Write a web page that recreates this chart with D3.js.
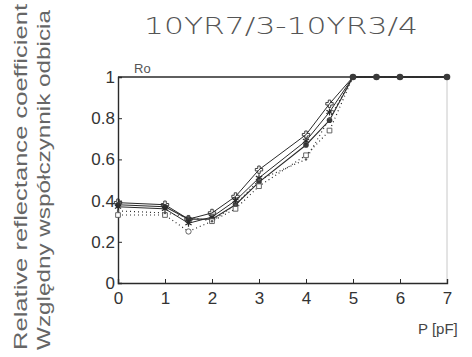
<!DOCTYPE html>
<html><head><meta charset="utf-8">
<script src="https://cdn.jsdelivr.net/npm/d3@7"></script>
<style>body{margin:0;background:#fff}svg{display:block}</style>
</head><body><svg id="c" width="472" height="357"></svg>
<script>
const xVals = [0, 1, 1.5, 2, 2.5, 3, 4, 4.5, 5, 5.5, 6, 7];
const seriesCircle = [0.38, 0.37, 0.31, 0.31, 0.38, 0.49, 0.67, 0.79, 1, 1, 1, 1];
const seriesPlus = [0.39, 0.38, 0.31, 0.34, 0.42, 0.55, 0.72, 0.87, 1, 1, 1, 1];
const seriesStar = [0.37, 0.36, 0.29, 0.32, 0.40, 0.51, 0.69, 0.83, 1, 1, 1, 1];
const seriesSquare = [0.33, 0.33, 0.25, 0.30, 0.36, 0.47, 0.62, 0.74, 1, 1, 1, 1];
const seriesDot = [0.35, 0.34, 0.32, 0.30, 0.38, 0.50, 0.60, 0.80, 1, 1, 1, 1];
const xTicks = [0, 1, 2, 3, 4, 5, 6, 7];
const yTicks = [0, 0.2, 0.4, 0.6, 0.8, 1];
const yTickLabels = ["0", "0.2", "0.4", "0.6", "0.8", "1"];
const title = "10YR7/3-10YR3/4";
const yLabel1 = "Relative reflectance coefficient";
const yLabel2 = "Względny współczynnik odbicia";

const svg = d3.select("#c");
const x = d3.scaleLinear().domain([0, 7]).range([118, 447]);
const y = d3.scaleLinear().domain([0, 1]).range([283, 77]);
const ink = "#2a2a2a";
const font = "Liberation Sans, Arial, sans-serif";

// frame
svg.append("line").attr("x1", x(7)).attr("x2", x(7)).attr("y1", y(1)).attr("y2", y(0))
  .attr("stroke", "#c8c8c8").attr("stroke-width", 1);
svg.append("line").attr("x1", x(0)).attr("x2", x(7)).attr("y1", y(1)).attr("y2", y(1))
  .attr("stroke", ink).attr("stroke-width", 1.4);

const xAxis = svg.append("g").attr("transform", `translate(0,${y(0)})`)
  .call(d3.axisBottom(x).tickValues(xTicks).tickSize(-4).tickPadding(9).tickFormat(d3.format("d")));
const yAxis = svg.append("g").attr("transform", `translate(${x(0)},0)`)
  .call(d3.axisLeft(y).tickValues(yTicks).tickSize(-4).tickPadding(3).tickFormat((d, i) => yTickLabels[i]));
[xAxis, yAxis].forEach(g => {
  g.select(".domain").attr("stroke", ink).attr("stroke-width", 1.4);
  g.selectAll(".tick line").attr("stroke", ink);
  g.selectAll("text").attr("font-family", font).attr("font-size", 17).attr("fill", "#333");
});
yAxis.selectAll(".tick").filter(d => d === 1 || d === 0).select("line").remove();

const line = d3.line().x((d, i) => x(xVals[i])).y(d => y(d));
function draw(vals, dash, w) {
  svg.append("path").attr("d", line(vals)).attr("fill", "none")
    .attr("stroke", ink).attr("stroke-width", w).attr("stroke-dasharray", dash);
}
draw(seriesDot, "1,3", 1.2);
draw(seriesSquare, "1,3", 1.2);
draw(seriesStar, null, 1);
draw(seriesPlus, null, 1);
draw(seriesCircle, null, 1.1);

const g = svg.append("g");
seriesCircle.forEach((v, i) => g.append("circle").attr("cx", x(xVals[i])).attr("cy", y(v)).attr("r", v === 1 ? 3.3 : 2.8).attr("fill", "#3a3a3a"));
seriesPlus.forEach((v, i) => { if (v < 1) g.append("path").attr("d", d3.symbol(d3.symbolCross, 30)()).attr("transform", `translate(${x(xVals[i])},${y(v)})`).attr("fill", "none").attr("stroke", ink).attr("stroke-width", 0.9); });
seriesStar.forEach((v, i) => { if (v < 1) g.append("path").attr("d", d3.symbol(d3.symbolAsterisk, 36)()).attr("transform", `translate(${x(xVals[i])},${y(v)})`).attr("fill", "none").attr("stroke", ink).attr("stroke-width", 1.2); });
seriesSquare.forEach((v, i) => { if (v < 1) g.append("path").attr("d", d3.symbol(xVals[i] === 1.5 ? d3.symbolCircle : d3.symbolSquare, 22)()).attr("transform", `translate(${x(xVals[i])},${y(v)})`).attr("fill", "#fff").attr("stroke", "#555").attr("stroke-width", 0.9); });
seriesDot.forEach((v, i) => { if (v < 1) g.append("circle").attr("cx", x(xVals[i])).attr("cy", y(v)).attr("r", 1.2).attr("fill", "#555"); });

// texts
svg.append("text").attr("x", 144).attr("y", 34)
  .attr("font-family", "DejaVu Sans, sans-serif").attr("font-weight", 200).attr("font-size", 23).attr("fill", "#555")
  .attr("textLength", 274).attr("lengthAdjust", "spacingAndGlyphs").text(title);
svg.append("text").attr("x", 134).attr("y", 73).attr("font-family", font).attr("font-size", 13).attr("fill", "#555").text("Ro");
svg.append("text").attr("x", 418).attr("y", 334).attr("font-family", font).attr("font-size", 15).attr("fill", "#444").text("P [pF]");
svg.append("text").attr("transform", "translate(27,350) rotate(-90)")
  .attr("font-family", font).attr("font-size", 19).attr("fill", "#666")
  .attr("textLength", 346).attr("lengthAdjust", "spacingAndGlyphs").text(yLabel1);
svg.append("text").attr("transform", "translate(50,350) rotate(-90)")
  .attr("font-family", font).attr("font-size", 19).attr("fill", "#666")
  .attr("textLength", 340).attr("lengthAdjust", "spacingAndGlyphs").text(yLabel2);
</script></body></html>
